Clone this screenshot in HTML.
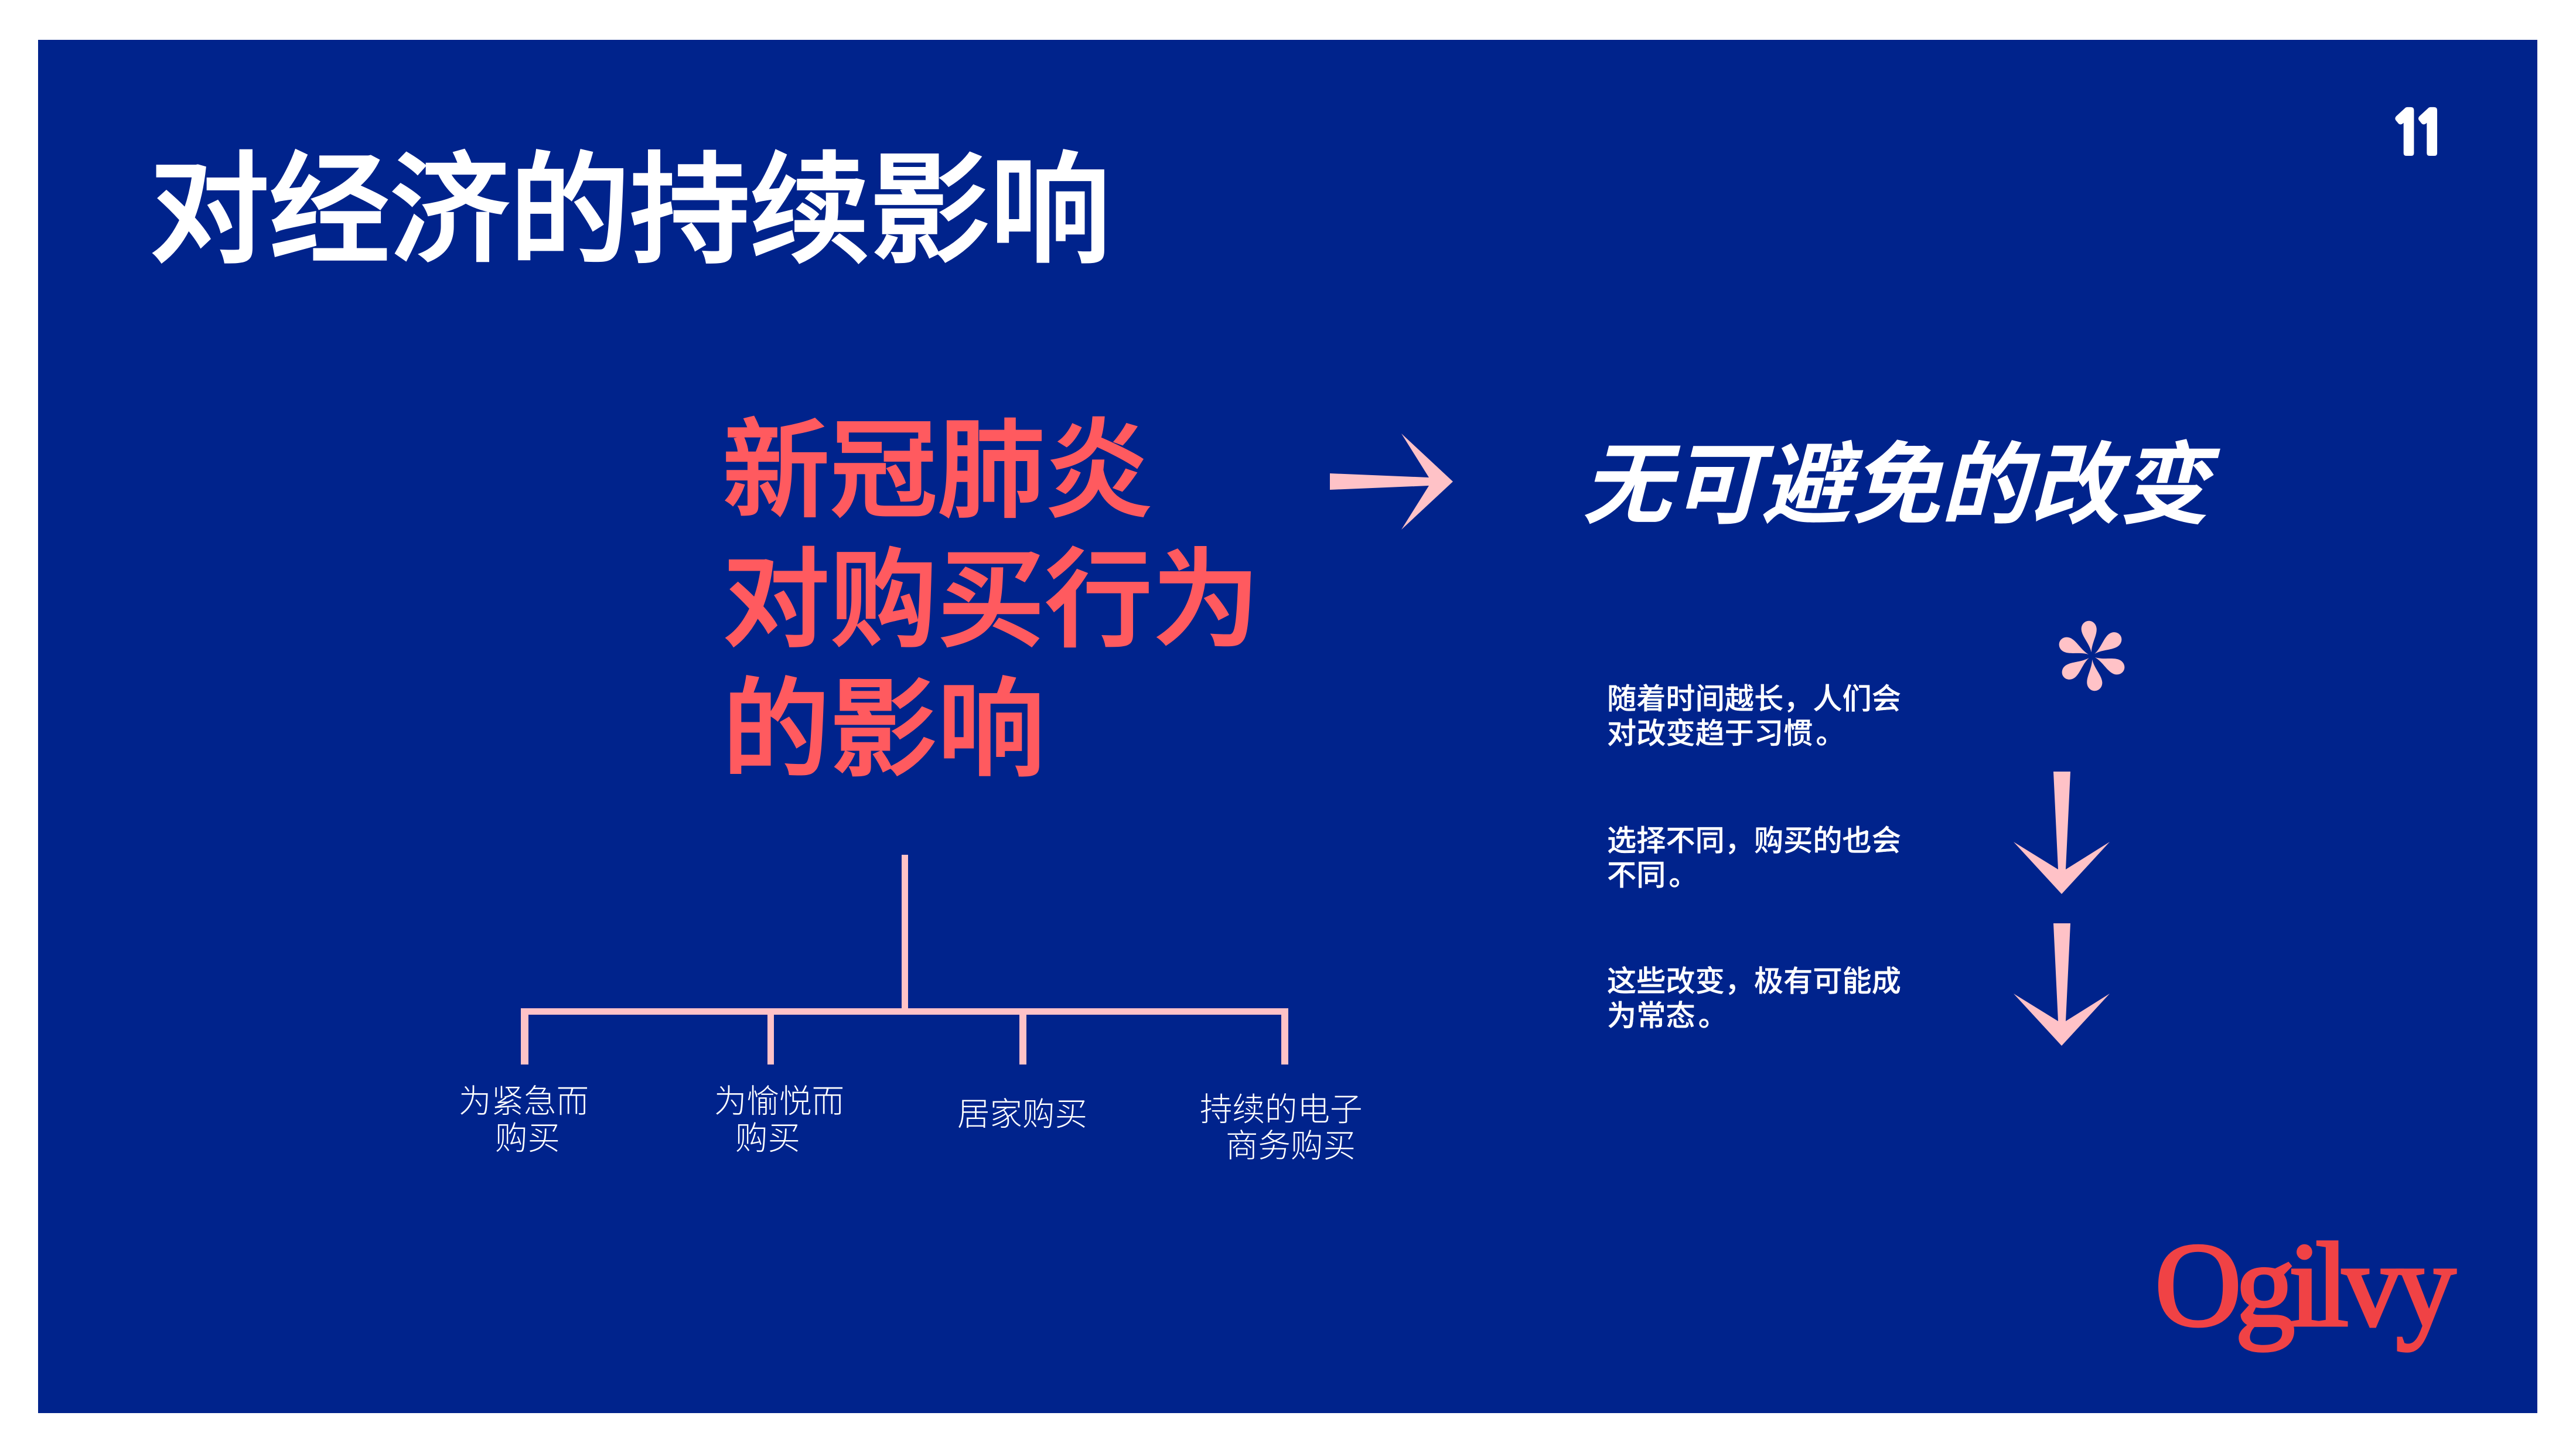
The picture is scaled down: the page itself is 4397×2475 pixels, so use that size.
<!DOCTYPE html>
<html><head><meta charset="utf-8"><style>
html,body{margin:0;padding:0;background:#fff;width:4397px;height:2475px;overflow:hidden}
svg{display:block}
text{font-family:"Liberation Sans","Noto Sans CJK SC",sans-serif;fill:#fff}
.l{font-size:55.5px;font-weight:300}
.b{font-size:50.2px;font-weight:500;stroke:#fff;stroke-width:.3px}
.h{font-size:183.5px;font-weight:500;fill:#ff5a5f;stroke:#ff5a5f;stroke-width:3px}
</style></head><body>
<svg width="4397" height="2475" viewBox="0 0 4397 2475" xmlns="http://www.w3.org/2000/svg">
<rect width="4397" height="2475" fill="#fff"/>
<rect x="65" y="68" width="4266" height="2344" fill="#00238c"/>
<text x="254" y="431" font-size="207" font-weight="500" textLength="1642" stroke="#fff" stroke-width="3">对经济的持续影响</text>
<text x="4079" y="262" font-size="100" font-weight="700" letter-spacing="-21" stroke="#fff" stroke-width="7" style="font-family:'NanumGothic',sans-serif">11</text>
<text class="h" x="1233" y="867">新冠肺炎</text>
<text class="h" x="1233" y="1088">对购买行为</text>
<text class="h" x="1233" y="1309">的影响</text>
<polygon fill="#ffc2c7" points="2270,808 2439,815 2392,740 2480,822 2392,904 2439,829 2270,836"/>
<text x="2700" y="881" font-size="153" font-weight="700" font-style="italic">无可避免的改变</text>
<g fill="#ffc2c7" transform="translate(3570.5 1119.5)">
<path d="M0,-6 C-2,-22 -13,-34 -13,-46 C-13,-54 -7,-60 0,-60 C7,-60 13,-54 13,-46 C13,-34 2,-22 0,-6Z" transform="rotate(-6)"/>
<path d="M0,-6 C-2,-22 -13,-34 -13,-46 C-13,-54 -7,-60 0,-60 C7,-60 13,-54 13,-46 C13,-34 2,-22 0,-6Z" transform="rotate(54)"/>
<path d="M0,-6 C-2,-22 -13,-34 -13,-46 C-13,-54 -7,-60 0,-60 C7,-60 13,-54 13,-46 C13,-34 2,-22 0,-6Z" transform="rotate(114)"/>
<path d="M0,-6 C-2,-22 -13,-34 -13,-46 C-13,-54 -7,-60 0,-60 C7,-60 13,-54 13,-46 C13,-34 2,-22 0,-6Z" transform="rotate(174)"/>
<path d="M0,-6 C-2,-22 -13,-34 -13,-46 C-13,-54 -7,-60 0,-60 C7,-60 13,-54 13,-46 C13,-34 2,-22 0,-6Z" transform="rotate(234)"/>
<path d="M0,-6 C-2,-22 -13,-34 -13,-46 C-13,-54 -7,-60 0,-60 C7,-60 13,-54 13,-46 C13,-34 2,-22 0,-6Z" transform="rotate(294)"/>
</g>
<text class="b" x="2743" y="1210">随着时间越长，人们会</text>
<text class="b" x="2743" y="1269">对改变趋于习惯<tspan dx="5">。</tspan></text>
<text class="b" x="2743" y="1452">选择不同，购买的也会</text>
<text class="b" x="2743" y="1511">不同<tspan dx="5">。</tspan></text>
<text class="b" x="2743" y="1692">这些改变，极有可能成</text>
<text class="b" x="2743" y="1751">为常态<tspan dx="5">。</tspan></text>
<polygon fill="#ffc2c7" points="3505,1317 3534,1317 3526,1484 3601,1437 3519,1526 3437,1437 3513,1484"/>
<polygon fill="#ffc2c7" points="3505,1576 3534,1576 3526,1743 3601,1696 3519,1785 3437,1696 3513,1743"/>
<g fill="#ffc2c7">
<rect x="1539" y="1459" width="11" height="262"/>
<rect x="889" y="1721" width="1310" height="11"/>
<rect x="889" y="1721" width="13" height="96"/>
<rect x="1310" y="1721" width="11" height="96"/>
<rect x="1740" y="1721" width="12" height="96"/>
<rect x="2187" y="1721" width="12" height="96"/>
</g>
<text class="l" x="783" y="1899">为紧急而</text>
<text class="l" x="845" y="1962">购买</text>
<text class="l" x="1219" y="1899">为愉悦而</text>
<text class="l" x="1255" y="1962">购买</text>
<text class="l" x="1634" y="1921">居家购买</text>
<text class="l" x="2048" y="1913">持续的电子</text>
<text class="l" x="2092" y="1975">商务购买</text>
<text x="3678" y="2262" font-size="205" font-weight="400" textLength="514" stroke="#f04245" stroke-width="5" style="font-family:'Liberation Serif',serif;fill:#f04245">Ogilvy</text>
</svg>
</body></html>
